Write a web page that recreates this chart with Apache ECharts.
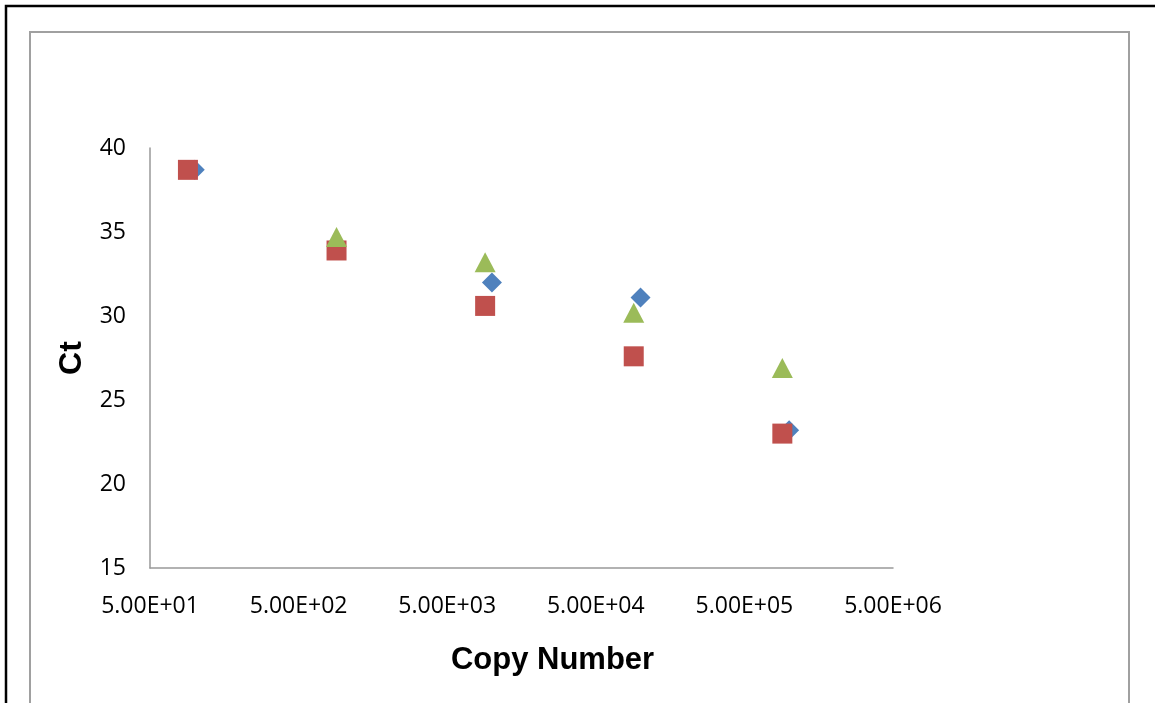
<!DOCTYPE html>
<html>
<head>
<meta charset="utf-8">
<title>Ct vs Copy Number</title>
<script src="https://cdn.jsdelivr.net/npm/echarts@6/dist/echarts.min.js"></script>
<style>
  html, body { margin: 0; padding: 0; background: #fff; }
  #chart { width: 1155px; height: 703px; }
</style>
</head>
<body>
<div id="chart"></div>
<script>
// 数据
const xTickLabels = ['5.00E+01', '5.00E+02', '5.00E+03', '5.00E+04', '5.00E+05', '5.00E+06'];

const blueX = [100, 10000, 100000, 1000000];
const blueY = [38.7, 32.0, 31.1, 23.2];

const redX = [90, 900, 9000, 90000, 900000];
const redY = [38.7, 33.9, 30.6, 27.6, 23.0];

const greenX = [900, 9000, 90000, 900000];
const greenY = [34.7, 33.2, 30.2, 26.9];

function pairs(xs, ys) {
  return xs.map((x, i) => [x, ys[i]]);
}

let chart = echarts.init(document.getElementById('chart'));
let option = {
  animation: false,
  backgroundColor: '#fff',
  textStyle: { fontFamily: 'Open Sans' },
  grid: { left: 150, top: 148, width: 743, height: 420, containLabel: false },
  graphic: [
    { type: 'rect', shape: { x: 6, y: 6, width: 1200, height: 760 },
      style: { fill: 'none', stroke: '#000', lineWidth: 2.5 }, silent: true },
    { type: 'rect', shape: { x: 30, y: 32, width: 1099, height: 740 },
      style: { fill: 'none', stroke: '#a0a0a0', lineWidth: 2 }, silent: true }
  ],
  xAxis: [
    {
      // 对数轴，用于绘制数据点
      type: 'log',
      logBase: 10,
      min: 50,
      max: 5000000,
      axisLine: { show: true, lineStyle: { color: '#999', width: 1.5 } },
      axisTick: { show: false },
      axisLabel: { show: false },
      splitLine: { show: false },
      minorTick: { show: false },
      name: 'Copy Number',
      nameLocation: 'middle',
      nameGap: 77,
      nameTextStyle: {
        fontFamily: 'Liberation Sans', fontWeight: 'bold', fontSize: 31, color: '#000',
        padding: [0, 0, 0, 62]
      }
    },
    {
      // 仅显示刻度标签
      type: 'value',
      position: 'bottom',
      min: 0,
      max: 5,
      interval: 1,
      axisLine: { show: false },
      axisTick: { show: false },
      splitLine: { show: false },
      axisLabel: {
        color: '#000',
        fontSize: 23,
        margin: 27,
        formatter: (v) => xTickLabels[Math.round(v)]
      }
    }
  ],
  yAxis: {
    type: 'value',
    min: 15,
    max: 40,
    interval: 5,
    axisLine: { show: true, lineStyle: { color: '#999', width: 1.5 } },
    axisTick: { show: false },
    splitLine: { show: false },
    axisLabel: { color: '#000', fontSize: 23, margin: 24 },
    name: 'Ct',
    nameLocation: 'middle',
    nameGap: 62,
    nameTextStyle: { fontFamily: 'Liberation Sans', fontWeight: 'bold', fontSize: 32, color: '#000' }
  },
  series: [
    {
      type: 'scatter',
      xAxisIndex: 0,
      symbol: 'diamond',
      symbolSize: [20, 20],
      itemStyle: { color: '#4F81BD', opacity: 1 },
      data: pairs(blueX, blueY)
    },
    {
      type: 'scatter',
      xAxisIndex: 0,
      symbol: 'rect',
      symbolSize: [20, 20],
      itemStyle: { color: '#C0504D', opacity: 1 },
      data: pairs(redX, redY)
    },
    {
      type: 'scatter',
      xAxisIndex: 0,
      symbol: 'triangle',
      symbolSize: [21, 20],
      itemStyle: { color: '#9BBB59', opacity: 1 },
      data: pairs(greenX, greenY)
    }
  ]
};
chart.setOption(option, true);
</script>
</body>
</html>
